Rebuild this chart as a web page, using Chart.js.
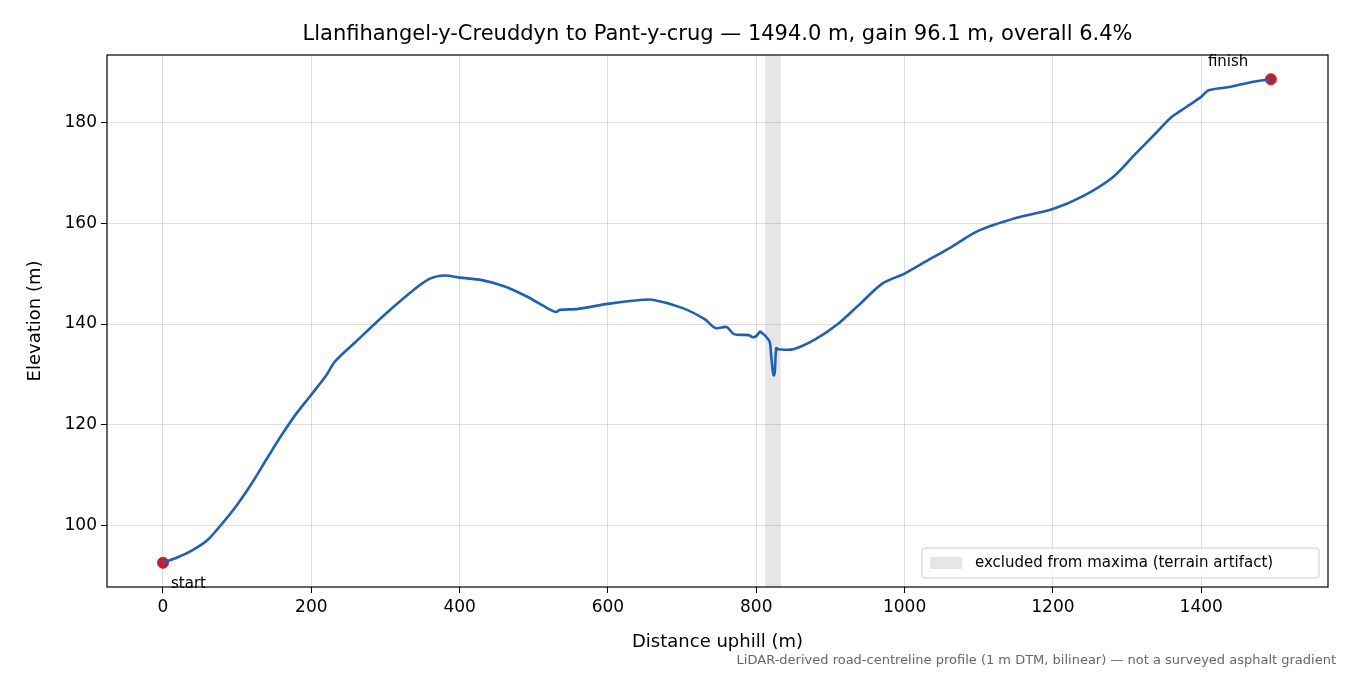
<!DOCTYPE html>
<html>
<head>
<meta charset="utf-8">
<script src="https://cdn.jsdelivr.net/npm/chart.js@4.4.1/dist/chart.umd.min.js"></script>
<style>
  body { margin: 0; background: #fff; }
  #wrap { width: 1350px; height: 675px; }
</style>
</head>
<body>
<div id="wrap"><canvas id="profile" width="1350" height="675"></canvas></div>
<script>
// Profile data
const distances = [0, 20, 40, 60, 80, 100, 120, 140, 160, 180, 200, 220, 232, 260, 300, 340, 360, 380, 400, 430, 460, 490, 520, 530, 535, 560, 600, 640, 660, 700, 730, 745, 760, 770, 790, 795, 800, 805, 807, 812, 818, 820, 822, 823.5, 825, 827, 830, 850, 880, 910, 940, 970, 1000, 1030, 1060, 1100, 1150, 1200, 1240, 1280, 1310, 1340, 1360, 1380, 1400, 1410, 1440, 1470, 1494];
const elevations = [92.7, 93.8, 95.2, 97.2, 100.5, 104.2, 108.5, 113.3, 118, 122.3, 126, 129.8, 132.6, 136.5, 142, 147, 149, 149.6, 149.2, 148.7, 147.5, 145.5, 143, 142.4, 142.8, 143, 144, 144.7, 144.8, 143.2, 141, 139.2, 139.4, 138, 137.8, 137.4, 137.6, 138.5, 138.3, 137.7, 136.5, 134, 131, 129.8, 130.5, 135.2, 135, 135, 137, 140, 144, 148, 150, 152.5, 155, 158.5, 161, 162.8, 165.3, 169, 173.5, 178, 181, 183, 185, 186.3, 187, 188, 188.5];
const excludedBand = [812, 833];
const xTicks = [0, 200, 400, 600, 800, 1000, 1200, 1400];
const yTicks = [100, 120, 140, 160, 180];

const titleText = 'Llanfihangel-y-Creuddyn to Pant-y-crug \u2014 1494.0 m, gain 96.1 m, overall 6.4%';
const footText = 'LiDAR-derived road-centreline profile (1 m DTM, bilinear) \u2014 not a surveyed asphalt gradient';
const legendText = 'excluded from maxima (terrain artifact)';
const xTitle = 'Distance uphill (m)';
const yTitle = 'Elevation (m)';

const profilePoints = distances.map((d, i) => ({ x: d, y: elevations[i] }));
const endPoints = [profilePoints[0], profilePoints[profilePoints.length - 1]];

// Draws band, frame, title, axis titles, labels and legend
const decorations = {
  id: 'decorations',
  beforeDatasetsDraw(chart) {
    const { ctx, chartArea, scales } = chart;
    const x0 = scales.x.getPixelForValue(excludedBand[0]);
    const x1 = scales.x.getPixelForValue(excludedBand[1]);
    ctx.save();
    ctx.fillStyle = 'rgba(128,128,128,0.2)';
    ctx.fillRect(x0, chartArea.top, x1 - x0, chartArea.bottom - chartArea.top);
    ctx.restore();
  },
  afterDraw(chart) {
    const { ctx, chartArea, scales } = chart;
    ctx.save();
    ctx.strokeStyle = '#000';
    ctx.lineWidth = 1.2;
    ctx.strokeRect(chartArea.left, chartArea.top, chartArea.right - chartArea.left, chartArea.bottom - chartArea.top);

    ctx.fillStyle = '#000';
    ctx.font = '21px "DejaVu Sans"';
    ctx.textAlign = 'center';
    ctx.textBaseline = 'alphabetic';
    ctx.fillText(titleText, (chartArea.left + chartArea.right) / 2, 40);

    ctx.font = '18px "DejaVu Sans"';
    ctx.fillText(xTitle, (chartArea.left + chartArea.right) / 2, 647);
    ctx.save();
    ctx.translate(40, (chartArea.top + chartArea.bottom) / 2);
    ctx.rotate(-Math.PI / 2);
    ctx.fillText(yTitle, 0, 0);
    ctx.restore();

    ctx.font = '15px "DejaVu Sans"';
    ctx.textAlign = 'left';
    const s = endPoints[0], f = endPoints[1];
    ctx.fillText('start', scales.x.getPixelForValue(s.x) + 8, scales.y.getPixelForValue(s.y) + 25);
    ctx.fillText('finish', scales.x.getPixelForValue(f.x) - 63, scales.y.getPixelForValue(f.y) - 13);

    ctx.font = '13px "DejaVu Sans"';
    ctx.fillStyle = '#666';
    ctx.textAlign = 'right';
    ctx.fillText(footText, 1336, 664);

    // legend box
    const lx = 922, ly = 548, lw = 397, lh = 30;
    ctx.fillStyle = 'rgba(255,255,255,0.8)';
    ctx.strokeStyle = '#ccc';
    ctx.lineWidth = 1;
    ctx.beginPath();
    ctx.roundRect(lx, ly, lw, lh, 3);
    ctx.fill();
    ctx.stroke();
    ctx.fillStyle = 'rgba(128,128,128,0.2)';
    ctx.fillRect(lx + 8, ly + 9, 32, 12);
    ctx.fillStyle = '#000';
    ctx.font = '15px "DejaVu Sans"';
    ctx.textAlign = 'left';
    ctx.textBaseline = 'middle';
    ctx.fillText(legendText, lx + 53, ly + lh / 2);
    ctx.restore();
  }
};

new Chart(document.getElementById('profile'), {
  type: 'scatter',
  data: {
    datasets: [
      {
        data: profilePoints,
        showLine: true,
        borderColor: '#1f5fb4',
        borderWidth: 2.6,
        pointRadius: 0,
        tension: 0.3
      },
      {
        data: endPoints,
        showLine: false,
        pointRadius: 5.5,
        backgroundColor: '#c41e2a',
        borderColor: '#c41e2a'
      }
    ]
  },
  options: {
    responsive: false,
    animation: false,
    layout: { padding: { left: 0, right: 22, top: 55, bottom: 0 } },
    plugins: { legend: { display: false }, tooltip: { enabled: false } },
    scales: {
      x: {
        type: 'linear',
        min: -75.5,
        max: 1571,
        afterBuildTicks: (axis) => { axis.ticks = xTicks.map(v => ({ value: v })); },
        afterFit: (axis) => { axis.height = 88; },
        grid: { color: 'rgba(0,0,0,0.13)', drawTicks: true, tickLength: 6, tickColor: '#000' },
        border: { display: false },
        ticks: { color: '#000', font: { family: 'DejaVu Sans', size: 17 }, padding: 4, maxRotation: 0, callback: (v) => String(v) }
      },
      y: {
        min: 87.9,
        max: 193.3,
        afterBuildTicks: (axis) => { axis.ticks = yTicks.map(v => ({ value: v })); },
        afterFit: (axis) => { axis.width = 107; },
        grid: { color: 'rgba(0,0,0,0.13)', drawTicks: true, tickLength: 6, tickColor: '#000' },
        border: { display: false },
        ticks: { color: '#000', font: { family: 'DejaVu Sans', size: 17 }, padding: 4, callback: (v) => String(v) }
      }
    }
  },
  plugins: [decorations]
});
</script>
</body>
</html>
